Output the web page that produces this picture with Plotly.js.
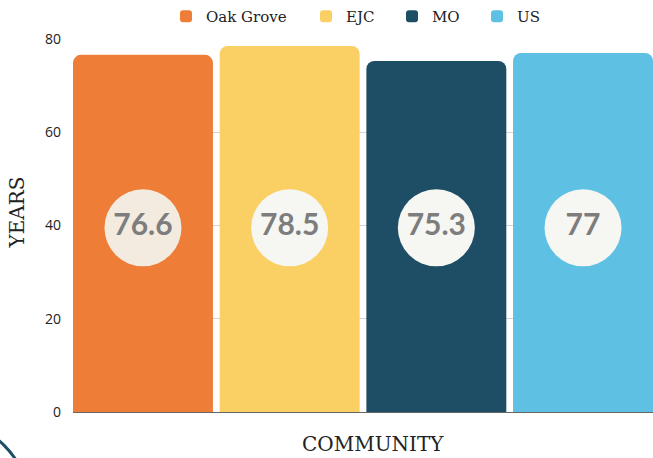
<!DOCTYPE html>
<html>
<head>
<meta charset="utf-8">
<script src="https://cdn.plot.ly/plotly-3.0.1.min.js"></script>
<style>
  html, body { margin: 0; padding: 0; background: #ffffff; }
  #chart { width: 653px; height: 458px; }
</style>
</head>
<body>
<div id="chart"></div>
<script>
// ---- data ----
const categories = ["Oak Grove", "EJC", "MO", "US"];
const values = [76.6, 78.5, 75.3, 77];
const valueLabels = ["76.6", "78.5", "75.3", "77"];
const yTicks = [0, 20, 40, 60, 80];
const xTitle = "COMMUNITY";
const yTitle = "YEARS";

// ---- styling constants ----
const barColors = ["#EE7D37", "#FAD064", "#1E4D66", "#5EC0E3"];
const circleColors = ["#F3EBE0", "#F6F6F2", "#F6F6F2", "#F6F6F2"];
const legendIds = ["legend", "legend2", "legend3", "legend4"];
const legendX = [0.2542, 0.4686, 0.6003, 0.7305];
const CIRCLE_Y = 39.5;
const SERIF = "DejaVu Serif, serif";

const traces = categories.map((c, i) => ({
  type: "bar",
  name: c,
  x: [c],
  y: [values[i]],
  legend: legendIds[i],
  marker: { color: barColors[i], cornerradius: 8 },
  hoverinfo: "skip"
}));

traces.push({
  type: "scatter",
  mode: "markers+text",
  x: categories,
  y: categories.map(() => CIRCLE_Y),
  text: valueLabels,
  textposition: "middle center",
  textfont: { family: "Lato, sans-serif", size: 30, color: "#7d7d7d", weight: 700 },
  marker: { size: 77, color: circleColors, line: { width: 0 } },
  showlegend: false,
  hoverinfo: "skip",
  cliponaxis: false
});

const layout = {
  width: 653,
  height: 458,
  margin: { l: 73, r: 0, t: 39, b: 46 },
  paper_bgcolor: "#ffffff",
  plot_bgcolor: "#ffffff",
  barmode: "group",
  bargap: 0.046,
  showlegend: true,
  xaxis: {
    type: "category",
    categoryorder: "array",
    categoryarray: categories,
    range: [-0.477, 3.477],
    showticklabels: false,
    ticks: "",
    showgrid: false,
    showline: false,
    zeroline: false,
    automargin: false
  },
  yaxis: {
    range: [0, 80],
    tickvals: yTicks,
    ticktext: yTicks.map(String),
    tickfont: { family: "Open Sans, sans-serif", size: 14, color: "#222222" },
    ticklabelstandoff: 11,
    showgrid: true,
    gridcolor: "#d4d4d4",
    gridwidth: 1,
    zeroline: true,
    zerolinecolor: "#666666",
    zerolinewidth: 1,
    showline: false,
    ticks: "",
    automargin: false
  },
  annotations: [
    {
      text: xTitle, showarrow: false,
      xref: "paper", yref: "paper",
      x: (373 - 73) / 580, y: (412 - 444) / 373,
      xanchor: "center", yanchor: "middle",
      font: { family: SERIF, size: 20, color: "#222222" }
    },
    {
      text: yTitle, showarrow: false, textangle: -90,
      xref: "paper", yref: "paper",
      x: (16 - 73) / 580, y: (412 - 212.5) / 373,
      xanchor: "center", yanchor: "middle",
      font: { family: SERIF, size: 20, color: "#222222" }
    }
  ],
  shapes: [
    {
      type: "circle",
      xref: "paper", yref: "paper",
      x0: (-151 - 73) / 580, x1: (31 - 73) / 580,
      y0: (412 - 601) / 373, y1: (412 - 419) / 373,
      line: { color: "#1E4D66", width: 3 },
      fillcolor: "rgba(0,0,0,0)",
      layer: "above"
    }
  ]
};

legendIds.forEach((id, i) => {
  layout[id] = {
    orientation: "h",
    xref: "container", x: legendX[i], xanchor: "left",
    yref: "container", y: 1, yanchor: "top",
    font: { family: SERIF, size: 15, color: "#222222" },
    bgcolor: "rgba(0,0,0,0)"
  };
});

Plotly.newPlot("chart", traces, layout, { displayModeBar: false, staticPlot: true });
</script>
</body>
</html>
